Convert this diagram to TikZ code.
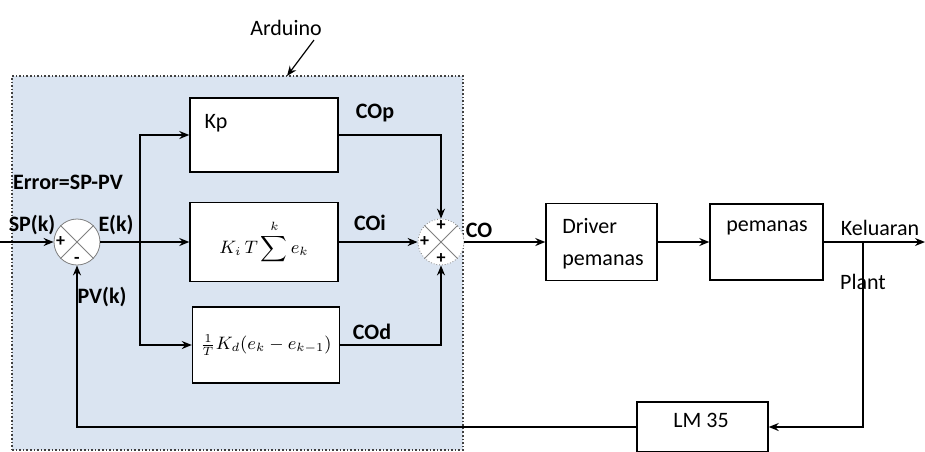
\documentclass[tikz,border=0pt]{standalone}
\usepackage{fontspec}
\setmainfont{Carlito}
\usepackage{amsmath}
\usetikzlibrary{arrows.meta}
\definecolor{arduinoblue}{RGB}{218,228,241}

\begin{document}
\begin{tikzpicture}[
		x=0.5pt, y=-0.5pt,
		font=\fontsize{11}{13}\selectfont,
		block/.style={draw, line width=0.7pt, fill=white, inner sep=0pt},
		mathblock/.style={block, font=\fontsize{9}{10}\selectfont},
		sum/.style={circle, draw=gray, fill=white, minimum size=23pt, inner sep=0pt},
		sig/.style={font=\bfseries\fontsize{11}{13}\selectfont, inner sep=1pt},
		sign/.style={font=\bfseries\fontsize{9}{9}\selectfont, inner sep=1pt},
		link/.style={line width=0.7pt, -{Stealth[length=5pt,width=4pt]}}
		]
		\clip (0,0) rectangle (925,451);
		\fill[white] (0,0) rectangle (925,451);
		\node[draw=darkgray, densely dotted, line width=0.8pt, fill=arduinoblue, minimum width=225.5pt, minimum height=187pt] (arduino) at (237.5,263) {};
		\node (ardlabel) at (286,28) {Arduino};
		\coordinate (ardfrom) at (314,40);
		\coordinate (ardtip) at (287,76);
		\draw[link, line width=0.6pt] (ardfrom) -- (ardtip);

		\node[sum] (sumE) at (77,242) {};
		\draw[gray] (sumE.north west) -- (sumE.south east) (sumE.north east) -- (sumE.south west);
		\node[sign, anchor=west] (sumEa) at (sumE.west) {+};
		\node[sign, anchor=south] (sumEb) at (sumE.south) {-};

		\node[sum, densely dotted] (sumCO) at (441,242) {};
		\draw[gray] (sumCO.north west) -- (sumCO.south east) (sumCO.north east) -- (sumCO.south west);
		\node[sign, anchor=north] (sumCOa) at (sumCO.north) {+};
		\node[sign, anchor=west] (sumCOb) at (sumCO.west) {+};
		\node[sign, anchor=south] (sumCOc) at (sumCO.south) {+};

		\node[block, minimum width=74pt, minimum height=37pt] (kp) at (264,135) {};
		\node (kptext) at (216,123) {Kp};
		\node[mathblock, minimum width=74pt, minimum height=39.5pt] (ki) at (264,242) {$\displaystyle K_i\,T\sum^{k} e_k$};
		\node[mathblock, minimum width=73.5pt, minimum height=38pt] (kd) at (266,345) {$\frac{1}{T}K_d(e_k-e_{k-1})$};

		\node[block, minimum width=55.5pt, minimum height=38.5pt] (driver) at (601.5,242) {};
		\node[anchor=west, align=left, inner sep=0pt] (drivertext) at (562,244) {Driver\\[3pt]pemanas};
		\node[block, minimum width=56.5pt, minimum height=38pt] (heater) at (766.5,242) {};
		\node (heatertext) at (767,228) {pemanas};
		\node[block, minimum width=65.5pt, minimum height=25pt] (lm) at (702.5,427) {};
		\node (lmtext) at (701,420) {LM 35};

		\node[sig] (err) at (68,182) {Error=SP-PV};
		\node[sig] (sp) at (32,225) {SP(k)};
		\node[sig] (ek) at (116,225) {E(k)};
		\node[sig] (pv) at (102,297) {PV(k)};
		\node[sig] (cop) at (375,113) {COp};
		\node[sig] (coi) at (370,223) {COi};
		\node[sig] (cod) at (372,332) {COd};
		\node[sig] (co) at (479,230) {CO};
		\node (keluaran) at (880,228) {Keluaran};
		\node (plant) at (863,282) {Plant};

		\coordinate (in) at (0,242);
		\coordinate (br) at (140,242);
		\coordinate (tap) at (863,242);
		\coordinate (out) at (925,242);

		\draw[link] (in) -- (sumE.west);
		\draw[link] (sumE.east) -- (ki.west);
		\draw[link] (br) |- (kp.west);
		\draw[link] (br) |- (kd.west);
		\draw[link] (kp.east) -| (sumCO.north);
		\draw[link] (ki.east) -- (sumCO.west);
		\draw[link] (kd.east) -| (sumCO.south);
		\draw[link] (sumCO.east) -- (driver.west);
		\draw[link] (driver.east) -- (heater.west);
		\draw[link] (heater.east) -- (out);
		\draw[link] (tap) |- (lm.east);
		\draw[link] (lm.west) -| (sumE.south);
\end{tikzpicture}
\end{document}
